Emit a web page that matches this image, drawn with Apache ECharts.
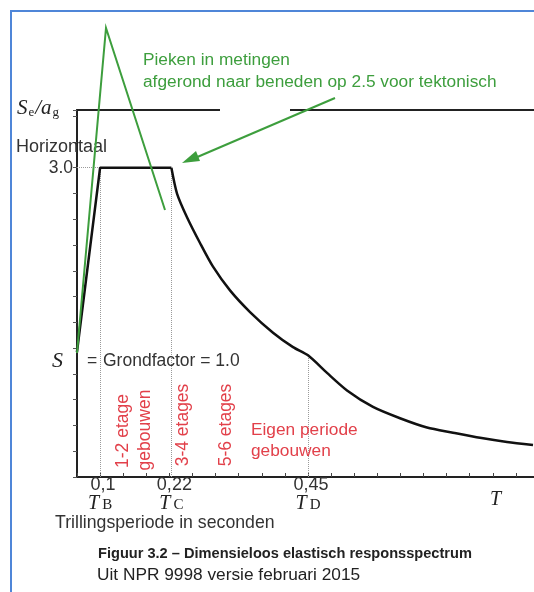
<!DOCTYPE html>
<html>
<head>
<meta charset="utf-8">
<script src="https://cdn.jsdelivr.net/npm/echarts@6/dist/echarts.min.js"></script>
<style>
  html, body { margin: 0; padding: 0; background: #ffffff; }
  #chart { width: 534px; height: 592px; }
</style>
</head>
<body>
<div id="chart"></div>
<script>
// ---- data ----
const periodT = [0.061, 0.1, 0.22, 0.2295, 0.2463, 0.2682, 0.2901, 0.3187, 0.3524, 0.3911, 0.4248, 0.45, 0.482, 0.5157, 0.5594, 0.6049, 0.6503, 0.6941, 0.7396, 0.785, 0.8288];
const spectrumSa = [1.21, 3.0, 3.0, 2.75, 2.52, 2.27, 2.04, 1.81, 1.60, 1.40, 1.26, 1.18, 1.01, 0.84, 0.68, 0.57, 0.48, 0.43, 0.38, 0.34, 0.31];
const cornerPeriods = [0.1, 0.22, 0.45];
const cornerLabels = ['0,1', '0,22', '0,45'];
const cornerSymbols = ['B', 'C', 'D'];
const plateauValue = 3.0;
const yTickLabels = [3.0];

const xMin = 0.1 - 0.35 / 9;
const xStep = 0.35 / 9;
const xMax = xMin + 457 / 594;
const yMax = 3.56;

const curve = periodT.map((t, i) => [t, spectrumSa[i]]);
const plateauEnd = periodT.indexOf(cornerPeriods[1]);
const risePart = curve.slice(0, plateauEnd + 1);
const decayPart = curve.slice(plateauEnd);
const valueAt = t => spectrumSa[periodT.indexOf(t)];

const guideLines = cornerPeriods.map(t => [
  { coord: [t, 0] },
  { coord: [t, valueAt(t)] }
]);
guideLines.push([{ coord: [xMin, plateauValue] }, { coord: [cornerPeriods[0], plateauValue] }]);

const green = '#3d9e3d';
const red = '#e2404a';
const txt = '#333333';
const sans = 'Arial, "Liberation Sans", sans-serif';
const serif = '"Times New Roman", "Liberation Serif", serif';

const chart = echarts.init(document.getElementById('chart'), null, { renderer: 'canvas' });

function redV(text, x, y) {
  return { type: 'text', x: x, y: y, rotation: Math.PI / 2, z: 50,
    style: { text: text, fill: red, font: '17.5px ' + sans, align: 'center', verticalAlign: 'middle' } };
}
function plainText(text, x, y, font, color, align) {
  return { type: 'text', x: x, y: y, z: 50,
    style: { text: text, fill: color || txt, font: font, align: align || 'left', verticalAlign: 'middle' } };
}

const option = {
  backgroundColor: '#ffffff',
  animation: false,
  grid: { left: 77, right: 0, top: 110, bottom: 115, outerBoundsMode: 'none', containLabel: false },
  xAxis: [
    {
      type: 'value', min: xMin, max: xMax, interval: xStep,
      axisLine: { show: true, lineStyle: { color: '#222', width: 2 } },
      axisTick: { show: true, inside: true, length: 4, lineStyle: { color: '#444', width: 1 } },
      splitLine: { show: false },
      axisLabel: {
        customValues: cornerPeriods,
        margin: 0,
        formatter: v => {
          const i = cornerPeriods.findIndex(c => Math.abs(c - v) < 1e-6);
          return i < 0 ? '' : '{n|' + cornerLabels[i] + '}\n{t|T}{s|' + cornerSymbols[i] + '}';
        },
        rich: {
          n: { fontSize: 18, fontFamily: sans, color: txt, lineHeight: 17, align: 'center', padding: [0, 0, 0, 6] },
          t: { fontSize: 20, fontFamily: serif, fontStyle: 'italic', color: '#222', lineHeight: 19 },
          s: { fontSize: 15, fontFamily: serif, color: '#222', lineHeight: 19, verticalAlign: 'bottom', padding: [10, 0, 0, 3] }
        }
      }
    },
    {
      type: 'value', position: 'top', min: xMin, max: xMax, gridIndex: 0,
      axisLine: { show: true, onZero: false, lineStyle: { color: '#222', width: 2 } },
      axisTick: { show: false }, axisLabel: { show: false }, splitLine: { show: false }
    }
  ],
  yAxis: {
    type: 'value', min: 0, max: yMax, interval: 0.25,
    axisLine: { show: true, lineStyle: { color: '#222', width: 2 } },
    axisTick: { show: true, inside: false, length: 4, lineStyle: { color: '#555', width: 1 } },
    splitLine: { show: false },
    axisLabel: {
      customValues: yTickLabels, margin: 4,
      formatter: v => v.toFixed(1),
      fontSize: 17.5, fontFamily: sans, color: txt
    }
  },
  series: [
    {
      type: 'line', xAxisIndex: 0, data: risePart, symbol: 'none', smooth: false,
      lineStyle: { color: '#111', width: 2.5 }, z: 5,
      markLine: {
        silent: true, symbol: ['none', 'none'], label: { show: false },
        lineStyle: { color: '#9a9a9a', type: 'dotted', width: 1 },
        data: guideLines, z: 1
      }
    },
    {
      type: 'line', xAxisIndex: 0, data: decayPart, symbol: 'none', smooth: 0.25,
      lineStyle: { color: '#111', width: 2.5 }, z: 5
    }
  ],
  graphic: [
    // frame
    { type: 'line', shape: { x1: 11, y1: 11, x2: 11, y2: 592 }, style: { stroke: '#4f86d8', lineWidth: 2 }, z: 60 },
    { type: 'line', shape: { x1: 10, y1: 11, x2: 534, y2: 11 }, style: { stroke: '#4f86d8', lineWidth: 2 }, z: 60 },
    // gap in top line
    { type: 'rect', shape: { x: 220, y: 106, width: 70, height: 8 }, style: { fill: '#ffffff' }, z: 40 },
    // green annotations
    { type: 'polyline', shape: { points: [[77, 353], [106, 28], [165, 210]] }, style: { stroke: green, lineWidth: 2, fill: null }, z: 55 },
    { type: 'line', shape: { x1: 335, y1: 98, x2: 195, y2: 158 }, style: { stroke: green, lineWidth: 2 }, z: 55 },
    { type: 'polygon', shape: { points: [[182, 163], [200, 161], [196, 151]] }, style: { fill: green }, z: 55 },
    plainText('Pieken in metingen', 143, 60, '17.3px ' + sans, green),
    plainText('afgerond naar beneden op 2.5 voor tektonisch', 143, 82, '17.3px ' + sans, green),
    // axis titles
    { type: 'text', x: 17, y: 108, z: 50, style: {
        text: '{a|S}{b|e}{a|/a}{b|g}', verticalAlign: 'middle',
        rich: {
          a: { fontSize: 21, fontFamily: serif, fontStyle: 'italic', fill: '#222', lineHeight: 22 },
          b: { fontSize: 13, fontFamily: serif, fill: '#222', lineHeight: 22, verticalAlign: 'bottom', padding: [8, 1, 0, 1] }
        } } },
    plainText('Horizontaal', 16, 147, '18px ' + sans, txt),
    plainText('S', 52, 361, 'italic 22px ' + serif, '#222'),
    plainText('=', 87, 361, '17.5px ' + sans, txt),
    plainText('Grondfactor = 1.0', 103, 361, '17.5px ' + sans, txt),
    plainText('T', 490, 500, 'italic 20px ' + serif, '#222'),
    plainText('Trillingsperiode in seconden', 55, 523, '17.7px ' + sans, txt),
    // red labels
    redV('1-2 etage', 123, 431),
    redV('gebouwen', 145, 430),
    redV('3-4 etages', 183, 425),
    redV('5-6 etages', 226, 425),
    plainText('Eigen periode', 251, 430, '17.3px ' + sans, red),
    plainText('gebouwen', 251, 451, '17.3px ' + sans, red),
    // caption
    plainText('Figuur 3.2 \u2013 Dimensieloos elastisch responsspectrum', 98, 554, 'bold 14.6px ' + sans, '#222'),
    plainText('Uit NPR 9998 versie februari 2015', 97, 575, '17.3px ' + sans, '#222')
  ]
};
chart.setOption(option);
</script>
</body>
</html>
